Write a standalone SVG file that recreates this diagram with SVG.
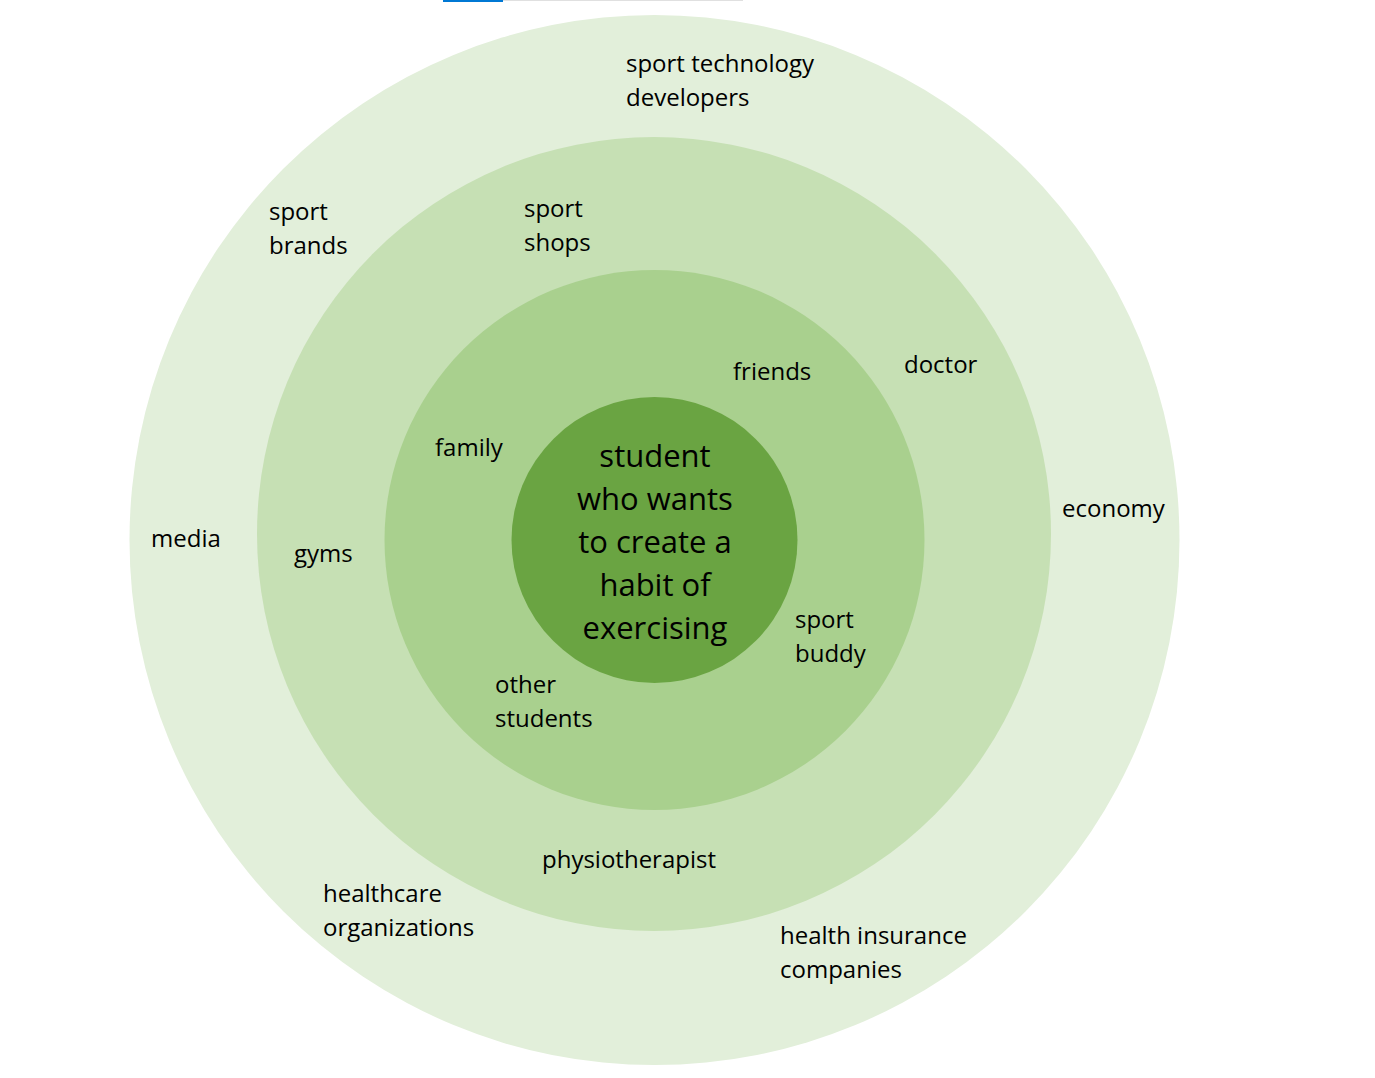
<svg xmlns="http://www.w3.org/2000/svg" width="1375" height="1078" viewBox="0 0 1375 1078">
<style>
.lbl{font-family:"Open Sans","Noto Sans","Liberation Sans",sans-serif;font-size:24px;fill:#000}
.ctr{font-family:"Open Sans","Noto Sans","Liberation Sans",sans-serif;font-size:31px;fill:#000;text-anchor:middle}
</style>
<rect x="0" y="0" width="1375" height="1078" fill="#ffffff"/>
<rect x="443" y="0" width="60" height="2" fill="#0078d4"/>
<rect x="503" y="0" width="240" height="1" fill="#e0e0e0"/>
<g id="ring-outer"><circle cx="654.5" cy="540" r="525" fill="#e2efda"/></g>
<g id="ring-second"><circle cx="654" cy="534" r="397" fill="#c6e0b4"/></g>
<g id="ring-third"><circle cx="654.5" cy="540" r="270" fill="#a9d08e"/></g>
<g id="center"><circle cx="654.5" cy="540" r="143" fill="#6aa442"/>
<text class="ctr"><tspan x="655" y="467">student</tspan><tspan x="655" y="510">who wants</tspan><tspan x="655" y="553">to create a</tspan><tspan x="655" y="596">habit of</tspan><tspan x="655" y="639">exercising</tspan></text></g>
<g id="connectors"></g>
<g id="n-tech"><text class="lbl"><tspan x="626" y="72">sport technology</tspan><tspan x="626" y="106">developers</tspan></text></g>
<g id="n-brands"><text class="lbl"><tspan x="269" y="220">sport</tspan><tspan x="269" y="254">brands</tspan></text></g>
<g id="n-shops"><text class="lbl"><tspan x="524" y="217">sport</tspan><tspan x="524" y="251">shops</tspan></text></g>
<g id="n-friends"><text class="lbl" x="733" y="380">friends</text></g>
<g id="n-doctor"><text class="lbl" x="904" y="373">doctor</text></g>
<g id="n-family"><text class="lbl" x="435" y="456">family</text></g>
<g id="n-economy"><text class="lbl" x="1062" y="517">economy</text></g>
<g id="n-media"><text class="lbl" x="151" y="547">media</text></g>
<g id="n-gyms"><text class="lbl" x="294" y="562">gyms</text></g>
<g id="n-buddy"><text class="lbl"><tspan x="795" y="628">sport</tspan><tspan x="795" y="662">buddy</tspan></text></g>
<g id="n-students"><text class="lbl"><tspan x="495" y="693">other</tspan><tspan x="495" y="727">students</tspan></text></g>
<g id="n-physio"><text class="lbl" x="542" y="868">physiotherapist</text></g>
<g id="n-healthcare"><text class="lbl"><tspan x="323" y="902">healthcare</tspan><tspan x="323" y="936">organizations</tspan></text></g>
<g id="n-insurance"><text class="lbl"><tspan x="780" y="944">health insurance</tspan><tspan x="780" y="978">companies</tspan></text></g>
</svg>
